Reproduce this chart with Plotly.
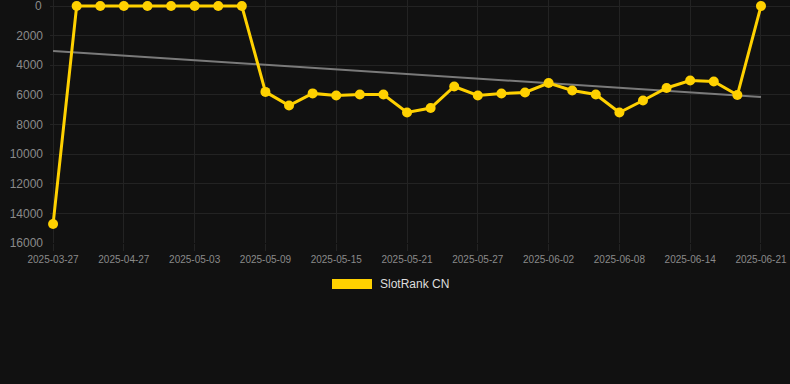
import plotly.graph_objects as go

dates = ["2025-03-27", "2025-04-23", "2025-04-25", "2025-04-27", "2025-04-29", "2025-05-01",
         "2025-05-03", "2025-05-05", "2025-05-07", "2025-05-09", "2025-05-11", "2025-05-13",
         "2025-05-15", "2025-05-17", "2025-05-19", "2025-05-21", "2025-05-23", "2025-05-25",
         "2025-05-27", "2025-05-29", "2025-05-31", "2025-06-02", "2025-06-04", "2025-06-06",
         "2025-06-08", "2025-06-10", "2025-06-12", "2025-06-14", "2025-06-16", "2025-06-18",
         "2025-06-21"]
rank = [14720, 1, 1, 1, 1, 1, 1, 1, 1, 5800, 6720, 5900, 6040, 5975, 5975, 7190, 6890,
        5435, 6040, 5910, 5840, 5200, 5700, 5975, 7190, 6380, 5535, 5030, 5100, 6010, 1]
trend_x = [dates[0], dates[-1]]
trend_y = [3040, 6140]
tick_labels = dates[::3]
y_ticks = [0, 2000, 4000, 6000, 8000, 10000, 12000, 14000, 16000]
series_name = "SlotRank CN"

GOLD = "#FFD100"
BG = "#111111"
GRID = "#232323"
TXT = "#8a8a8a"
FONT = "Liberation Sans, Arial, sans-serif"

fig = go.Figure()
fig.add_trace(go.Scatter(x=trend_x, y=trend_y, mode="lines",
                         line=dict(color="#7a7a7a", width=2),
                         showlegend=False, hoverinfo="skip", cliponaxis=False))
fig.add_trace(go.Scatter(x=dates, y=rank, mode="lines+markers", name=series_name,
                         line=dict(color=GOLD, width=3),
                         marker=dict(color=GOLD, size=10),
                         showlegend=False, cliponaxis=False))

y_text = ["" if v == 0 else str(v) for v in y_ticks]

fig.update_layout(
    width=790, height=384,
    margin=dict(l=50, r=0, t=0, b=141),
    paper_bgcolor=BG, plot_bgcolor=BG,
    font=dict(family=FONT, color=TXT),
    xaxis=dict(type="category", categoryorder="array", categoryarray=dates,
               range=[-0.13, 31.23],
               tickvals=tick_labels, ticktext=tick_labels,
               showgrid=True, gridcolor=GRID, gridwidth=1,
               ticks="outside", ticklen=7, tickcolor=GRID,
               tickfont=dict(size=10, color=TXT),
               showline=False, zeroline=False),
    yaxis=dict(range=[16000, -405], tickmode="array", tickvals=y_ticks,
               ticktext=y_text,
               showgrid=True, gridcolor=GRID, gridwidth=1,
               tickfont=dict(size=12, color=TXT),
               ticks="", ticklabelstandoff=6, automargin=False,
               showline=False, zeroline=False),
    showlegend=False,
)

# the "0" tick label (plotly drops it at the top edge)
fig.add_annotation(xref="paper", yref="y", x=0, y=y_ticks[0], xanchor="right",
                   yanchor="middle", xshift=-6, showarrow=False, text=str(y_ticks[0]),
                   font=dict(size=12, color=TXT, family=FONT))

# legend drawn manually (wide swatch)
fig.add_shape(type="rect", xref="paper", yref="paper",
              x0=(332 - 50) / 740, x1=(372 - 50) / 740,
              y0=(243 - 289) / 243, y1=(243 - 279) / 243,
              fillcolor=GOLD, line=dict(width=0))
fig.add_annotation(xref="paper", yref="paper",
                   x=(378 - 50) / 740, y=(243 - 284) / 243,
                   xanchor="left", yanchor="middle", showarrow=False,
                   text=series_name, font=dict(size=12, color="#dddddd", family=FONT))

fig.write_html("out.html")
